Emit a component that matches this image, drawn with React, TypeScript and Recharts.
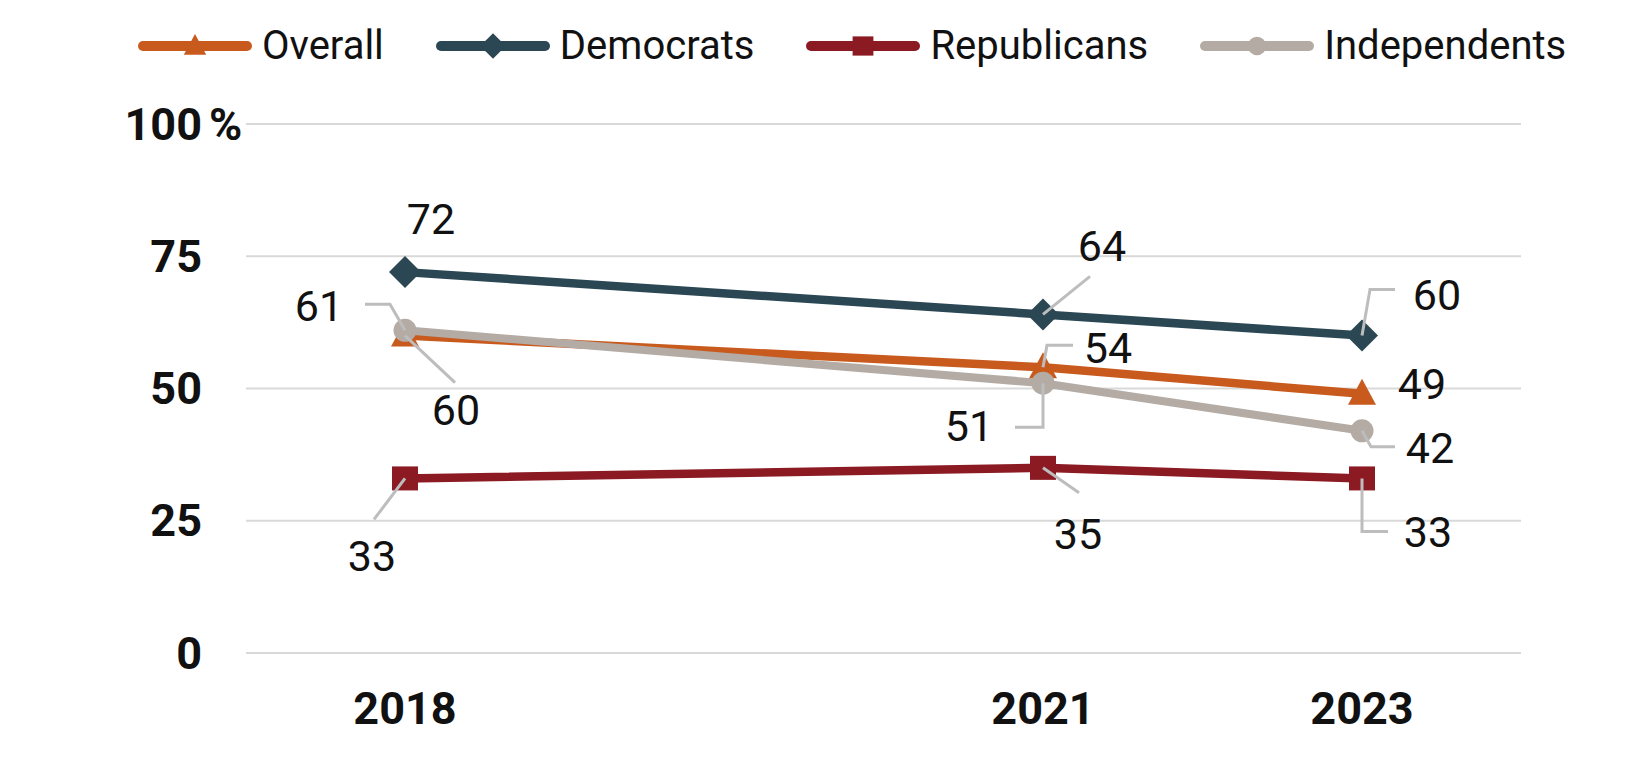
import React from "react";
import { CartesianGrid, LabelList, Line, LineChart, XAxis, YAxis } from "recharts";

// "" is a spacer category: the source chart leaves an empty slot between 2018 and 2021
const years = ["2018", "", "2021", "2023"];
const overall = [60, null, 54, 49];
const democrats = [72, null, 64, 60];
const republicans = [33, null, 35, 33];
const independents = [61, null, 51, 42];
const yTicks = [0, 25, 50, 75, 100];

const data = years.map((year, i) => ({
  year,
  overall: overall[i],
  democrats: democrats[i],
  republicans: republicans[i],
  independents: independents[i],
}));

const INK = "#111111";
const LEADER = "#BDBDBD";
const FONT = "Roboto, 'Noto Sans', sans-serif";

type Shape = "triangle" | "diamond" | "square" | "circle";

const series: { key: string; name: string; color: string; shape: Shape; width: number }[] = [
  { key: "overall", name: "Overall", color: "#C85A1E", shape: "triangle", width: 8.5 },
  { key: "democrats", name: "Democrats", color: "#2A4753", shape: "diamond", width: 8.5 },
  { key: "republicans", name: "Republicans", color: "#8B1A22", shape: "square", width: 8.5 },
  { key: "independents", name: "Independents", color: "#B3ABA4", shape: "circle", width: 8 },
];

// label placement relative to the point, plus optional leader line
type Callout = { dx: number; dy: number; leader?: [number, number][] };
const callouts: Record<string, Record<number, Callout>> = {
  democrats: {
    0: { dx: 26, dy: -53 },
    2: { dx: 59, dy: -68, leader: [[0, 0], [47, -38]] },
    3: { dx: 75, dy: -41, leader: [[0, 0], [8, -46], [33, -46]] },
  },
  overall: {
    0: { dx: 51, dy: 74, leader: [[0, 0], [50, 47]] },
    2: { dx: 65, dy: -19, leader: [[0, 0], [4, -22], [30, -22]] },
    3: { dx: 60, dy: -10 },
  },
  republicans: {
    0: { dx: -33, dy: 78, leader: [[0, 0], [-31, 41]] },
    2: { dx: 35, dy: 66, leader: [[0, 0], [36, 25]] },
    3: { dx: 66, dy: 54, leader: [[0, 0], [0, 53], [26, 53]] },
  },
  independents: {
    0: { dx: -86, dy: -24, leader: [[0, 0], [-15, -26], [-40, -26]] },
    2: { dx: -74, dy: 43, leader: [[0, 0], [0, 44], [-28, 44]] },
    3: { dx: 68, dy: 17, leader: [[0, 0], [9, 16], [33, 16]] },
  },
};

function Marker({ shape, cx, cy, color, s = 1 }: { shape: Shape; cx: number; cy: number; color: string; s?: number }) {
  if (shape === "triangle") {
    return (
      <polygon
        points={`${cx},${cy - 15 * s} ${cx + 14 * s},${cy + 11 * s} ${cx - 14 * s},${cy + 11 * s}`}
        fill={color}
      />
    );
  }
  if (shape === "diamond") {
    return (
      <polygon
        points={`${cx},${cy - 16 * s} ${cx + 16 * s},${cy} ${cx},${cy + 16 * s} ${cx - 16 * s},${cy}`}
        fill={color}
      />
    );
  }
  if (shape === "square") {
    return <rect x={cx - 13 * s} y={cy - 12 * s} width={26 * s} height={24 * s} fill={color} />;
  }
  return <circle cx={cx} cy={cy} r={11.5 * s} fill={color} />;
}

function makeDot(shape: Shape, color: string) {
  return (props: any) => {
    const { cx, cy, index } = props;
    if (cx == null || cy == null || props.value == null) return <g key={`d-${index}`} />;
    return (
      <g key={`d-${index}`}>
        <Marker shape={shape} cx={cx} cy={cy} color={color} />
      </g>
    );
  };
}

function makeLabel(key: string) {
  return (props: any) => {
    const { x, y, value, index } = props;
    const c = callouts[key][index];
    if (value == null || x == null || y == null || !c) return null;
    return (
      <g>
        {c.leader && (
          <polyline
            points={c.leader.map(([a, b]) => `${x + a},${y + b}`).join(" ")}
            fill="none"
            stroke={LEADER}
            strokeWidth={3}
          />
        )}
        <text
          x={x + c.dx}
          y={y + c.dy}
          textAnchor="middle"
          dominantBaseline="central"
          fontSize={43}
          fontFamily={FONT}
          fill={INK}
        >
          {value}
        </text>
      </g>
    );
  };
}

function YTick(props: any) {
  const { x, y, payload } = props;
  return (
    <g>
      <text x={x} y={y} textAnchor="end" dominantBaseline="central" fontSize={45} fontWeight={700} fontFamily={FONT} fill={INK}>
        {payload.value}
      </text>
      {payload.value === 100 && (
        <text x={x + 7} y={y} textAnchor="start" dominantBaseline="central" fontSize={45} fontWeight={700} fontFamily={FONT} fill={INK}>
          %
        </text>
      )}
    </g>
  );
}

function XTick(props: any) {
  const { x, y, payload } = props;
  if (!payload.value) return <g />;
  return (
    <text x={x} y={y + 55} textAnchor="middle" dominantBaseline="central" fontSize={45} fontWeight={700} fontFamily={FONT} fill={INK}>
      {payload.value}
    </text>
  );
}

function LegendRow() {
  return (
    <div
      style={{
        position: "absolute",
        left: 130,
        top: 16,
        display: "flex",
        alignItems: "center",
        gap: 52,
        fontSize: 40,
        lineHeight: "44px",
        color: INK,
        fontFamily: FONT,
        whiteSpace: "nowrap",
      }}
    >
      {series.map((s) => (
        <div key={s.key} style={{ display: "flex", alignItems: "center" }}>
          <svg width={114} height={30} style={{ display: "block" }}>
            <line x1={5} y1={15} x2={109} y2={15} stroke={s.color} strokeWidth={10} strokeLinecap="round" />
            <Marker shape={s.shape} cx={57} cy={15} color={s.color} s={0.8} />
          </svg>
          <span style={{ marginLeft: 10 }}>{s.name}</span>
        </div>
      ))}
    </div>
  );
}

export default function App() {
  return (
    <div style={{ position: "relative", width: 1610, height: 742, fontFamily: FONT, background: "#fff" }}>
      <LegendRow />
      <LineChart width={1610} height={742} data={data} margin={{ top: 116, right: 97, bottom: 37, left: 0 }}>
        <CartesianGrid vertical={false} stroke="#D9D9D9" strokeWidth={2} />
        <XAxis
          dataKey="year"
          interval={0}
          axisLine={false}
          tickLine={false}
          tickSize={0}
          tickMargin={0}
          height={60}
          padding={{ left: 159, right: 159 }}
          tick={<XTick />}
        />
        <YAxis
          domain={[0, 100]}
          ticks={yTicks}
          axisLine={false}
          tickLine={false}
          tickSize={0}
          tickMargin={44}
          width={238}
          tick={<YTick />}
        />
        {series.map((s) => (
          <Line
            key={s.key}
            dataKey={s.key}
            name={s.name}
            stroke={s.color}
            strokeWidth={s.width}
            connectNulls
            dot={makeDot(s.shape, s.color)}
            activeDot={false}
            isAnimationActive={false}
          >
            <LabelList dataKey={s.key} content={makeLabel(s.key)} />
          </Line>
        ))}
      </LineChart>
    </div>
  );
}
